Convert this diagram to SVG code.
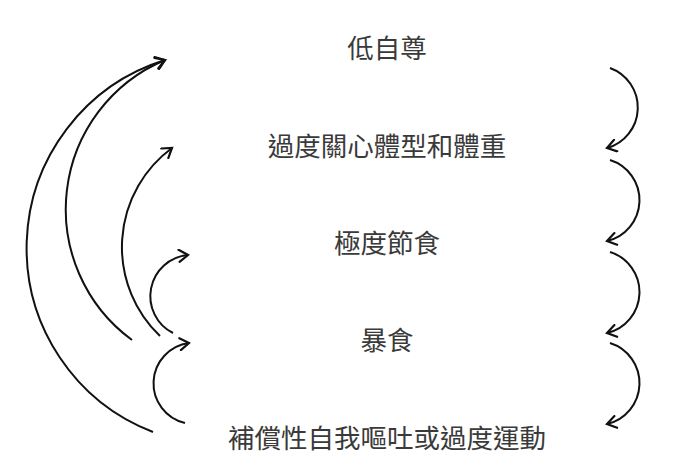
<svg xmlns="http://www.w3.org/2000/svg" width="700" height="465" viewBox="0 0 700 465">
  <style>
    .lbl { font-family: "Noto Sans CJK TC", "Noto Sans CJK SC", sans-serif; font-size: 26.5px; fill: #3a3a3a; text-anchor: middle; }
    .arc { fill: none; stroke: #111; stroke-width: 2; marker-end: url(#arr); }
  </style>
  <defs>
    <marker id="arr" markerUnits="userSpaceOnUse" markerWidth="14" markerHeight="14" refX="11" refY="7" orient="auto" viewBox="0 0 14 14">
      <path d="M2,1 L11,7 L2,13" fill="none" stroke="#111" stroke-width="2.2" stroke-linecap="round" stroke-linejoin="miter"/>
    </marker>
  </defs>
  <rect width="700" height="465" fill="#fff"/>
  <g id="node-low-self-esteem"><text class="lbl" x="387" y="58">低自尊</text></g>
  <g id="node-body-concern"><text class="lbl" x="387" y="156">過度關心體型和體重</text></g>
  <g id="node-dieting"><text class="lbl" x="387" y="253">極度節食</text></g>
  <g id="node-binge"><text class="lbl" x="387" y="350">暴食</text></g>
  <g id="node-compensation"><text class="lbl" x="387" y="448">補償性自我嘔吐或過度運動</text></g>
  <g id="connectors">
    <path class="arc" d="M610,68 A42,42 0 0 1 607,148"/>
    <path class="arc" d="M610,160 A42,42 0 0 1 607,241"/>
    <path class="arc" d="M610,252 A42,42 0 0 1 607,333"/>
    <path class="arc" d="M610,343 A42,42 0 0 1 607,424"/>
    <path class="arc" d="M153,432 A197,197 0 0 1 165,60"/>
    <path class="arc" d="M132,340 A162,162 0 0 1 165,60"/>
    <path class="arc" d="M160,336 A123,123 0 0 1 172,148"/>
    <path class="arc" d="M173,333 A41.3,41.3 0 0 1 188,255"/>
    <path class="arc" d="M185,423 A40.7,40.7 0 0 1 189,343"/>
  </g>
</svg>
